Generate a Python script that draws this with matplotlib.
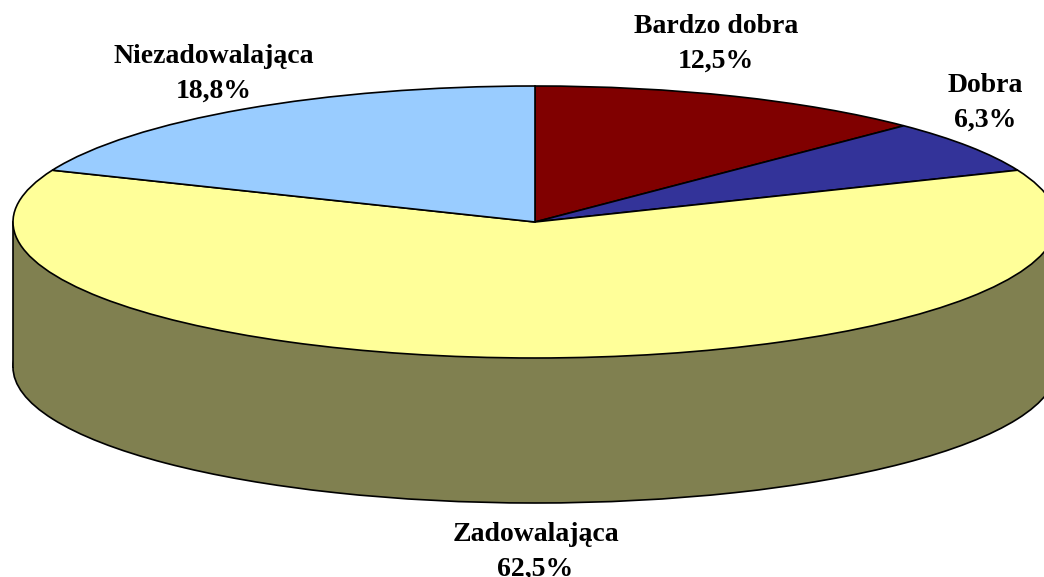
import matplotlib.pyplot as plt
from matplotlib.patches import Rectangle

plt.rcParams['font.family'] = ['Liberation Serif', 'DejaVu Serif']

# Data
labels = ["Bardzo dobra", "Dobra", "Zadowalająca", "Niezadowalająca"]
values = [12.5, 6.3, 62.5, 18.8]
value_labels = ["12,5%", "6,3%", "62,5%", "18,8%"]
colors = ["#800000", "#333399", "#FFFF99", "#99CCFF"]
side_color = "#808050"

# Pie geometry in pixels of the picture
cx, cy = 535, 222
rx, ry = 522, 136
depth = 145
width, height = 1044, 577

fig = plt.figure(figsize=(width / 100, height / 100), dpi=100)
ax = fig.add_axes([0, 0, 1, 1])

# bottom of the disc, then the wall between the two ellipses
ax.pie([1], colors=[side_color], radius=1, center=(0, -depth / ry),
       wedgeprops=dict(edgecolor="black", linewidth=1.2))
ax.add_patch(Rectangle((-1, -depth / ry), 2, depth / ry, facecolor=side_color, edgecolor="none", zorder=2))
ax.plot([-1, -1], [0, -depth / ry], color="black", lw=1.2, zorder=3)
ax.plot([1, 1], [0, -depth / ry], color="black", lw=1.2, zorder=3)

# top of the disc
wedges, _ = ax.pie(values, colors=colors, startangle=90, counterclock=False, radius=1,
                   wedgeprops=dict(edgecolor="black", linewidth=1.2))
for w in wedges:
    w.set_zorder(4)

ax.set_aspect("auto")
ax.set_xlim(-cx / rx, (width - cx) / rx)
ax.set_ylim((cy - height) / ry, cy / ry)
ax.axis("off")

# label x centre and first baseline in pixels, second line sits 35 px lower
label_px = [(716, 33), (985.5, 92), (535.5, 541), (214, 63)]
for lab, val, (px, py) in zip(labels, value_labels, label_px):
    ax.text((px - cx) / rx, (cy - py) / ry, lab, ha="center", va="baseline",
            fontsize=20, fontweight="bold", color="black", zorder=5)
    ax.text((px - cx) / rx, (cy - py - 35) / ry, val, ha="center", va="baseline",
            fontsize=20, fontweight="bold", color="black", zorder=5)

fig.savefig("out.png", dpi=100)
